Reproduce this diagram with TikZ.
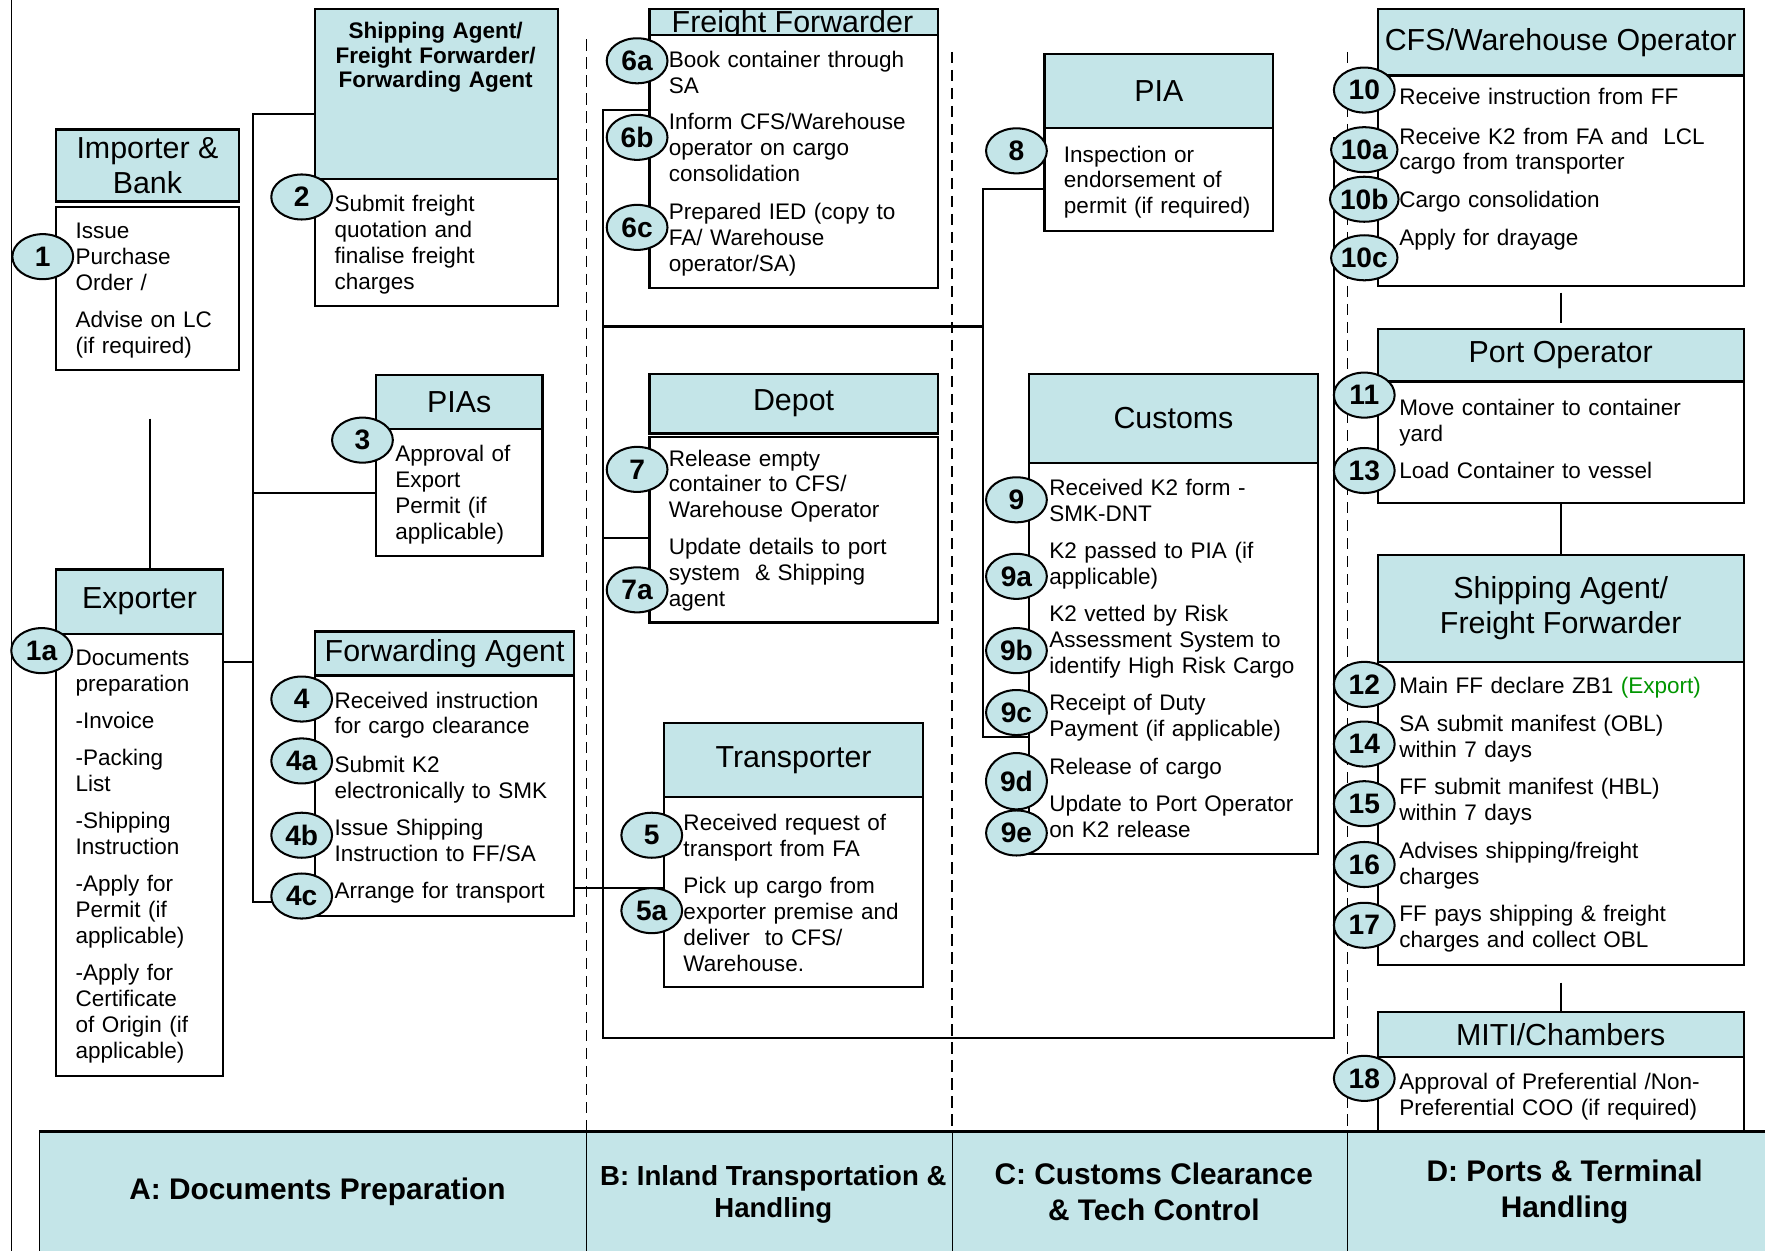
\documentclass[tikz,border=0pt]{standalone}
\usepackage{fontspec}
\setmainfont{Liberation Sans}
\usetikzlibrary{positioning,shapes.geometric}
\definecolor{headfill}{RGB}{196,229,232}
\definecolor{exportgreen}{RGB}{0,150,0}

\begin{document}
\begin{tikzpicture}[x=1pt,y=-1pt,
  hdr/.style={draw,line width=2pt,fill=headfill,anchor=north west,inner sep=0pt,
    align=center,font=\fontsize{27}{31}\selectfont},
  bodybox/.style={draw,line width=2pt,fill=white,anchor=north west,inner sep=0pt},
  stepno/.style={draw,line width=1.8pt,fill=headfill,ellipse,minimum width=54pt,
    minimum height=40pt,inner sep=0pt,font=\fontsize{25}{25}\selectfont\bfseries},
  txt/.style={anchor=base west,inner sep=0pt,text width=330pt,align=left,
    font=\fontsize{20}{23}\selectfont},
  link/.style={line width=2pt},
  lane/.style={line width=1.5pt,dash pattern=on 10pt off 6pt},
  phase/.style={font=\fontsize{26.5}{32}\selectfont\bfseries,align=center}]

  \useasboundingbox (0,0) rectangle (1568,1111);
  \draw[line width=1pt] (10,0) -- (10,1111);

  % lanes between phases
  \draw[lane] (521,35) -- (521,1005);
  \draw[lane] (846,46) -- (846,1005);
  \draw[lane] (1197,46) -- (1197,1005);

  % A: documents preparation
  \node[hdr,minimum width=162pt,minimum height=64pt] (imphd) at (49,114) {Importer \&\\Bank};
  \node[bodybox,minimum width=162pt,minimum height=145pt] (impbd) at (49,183) {};
  \node[hdr,minimum width=148pt,minimum height=57pt] (exphd) at (49,505) {Exporter};
  \node[bodybox,minimum width=148pt,minimum height=393pt] (expbd) at (49,562) {};
  \node[hdr,minimum width=216pt,minimum height=151pt] (sahd) at (279,7) {};
  \node[anchor=base,inner sep=0pt,text width=214pt,align=center,
    font=\fontsize{20}{22}\selectfont\bfseries] (satl) at (387,34)
    {Shipping Agent/\\Freight Forwarder/\\Forwarding Agent};
  \node[bodybox,minimum width=216pt,minimum height=113pt] (sabd) at (279,158) {};
  \node[hdr,minimum width=148pt,minimum height=48pt] (piashd) at (333,332) {PIAs};
  \node[bodybox,minimum width=148pt,minimum height=113pt] (piasbd) at (333,380) {};
  \node[hdr,minimum width=230pt,minimum height=39pt] (fahd) at (279,560) {Forwarding Agent};
  \node[bodybox,minimum width=230pt,minimum height=214pt] (fabd) at (279,599) {};

  % B: inland transportation
  \node[hdr,minimum width=256pt,minimum height=23pt] (ffhd) at (576,7) {};
  \node[anchor=base,inner sep=0pt,font=\fontsize{27}{31}\selectfont] (fftl) at (704,29)
    {Freight Forwarder};
  \node[bodybox,minimum width=256pt,minimum height=225pt] (ffbd) at (576,30) {};
  \node[hdr,minimum width=256pt,minimum height=53pt] (dephd) at (576,331) {Depot};
  \node[bodybox,minimum width=256pt,minimum height=165pt] (depbd) at (576,387) {};
  \node[hdr,minimum width=230pt,minimum height=66pt] (trhd) at (589,641) {Transporter};
  \node[bodybox,minimum width=230pt,minimum height=169pt] (trbd) at (589,707) {};

  % C: customs clearance
  \node[hdr,minimum width=203pt,minimum height=66pt] (piahd) at (927,47) {PIA};
  \node[bodybox,minimum width=203pt,minimum height=91pt] (piabd) at (927,113) {};
  \node[hdr,minimum width=257pt,minimum height=79pt] (cushd) at (913,331) {Customs};
  \node[bodybox,minimum width=257pt,minimum height=348pt] (cusbd) at (913,410) {};

  % D: ports and terminal
  \node[hdr,minimum width=325pt,minimum height=59pt] (cfshd) at (1223,7) {CFS/Warehouse Operator};
  \node[bodybox,minimum width=325pt,minimum height=187pt] (cfsbd) at (1223,66) {};
  \node[hdr,minimum width=325pt,minimum height=47pt] (pohd) at (1223,291) {Port Operator};
  \node[bodybox,minimum width=325pt,minimum height=108pt] (pobd) at (1223,338) {};
  \node[hdr,minimum width=325pt,minimum height=95pt] (sfhd) at (1223,492) {Shipping Agent/\\Freight Forwarder};
  \node[bodybox,minimum width=325pt,minimum height=269pt] (sfbd) at (1223,587) {};
  \node[hdr,minimum width=325pt,minimum height=40pt] (mitihd) at (1223,898) {MITI/Chambers};
  \node[bodybox,minimum width=325pt,minimum height=110pt] (mitibd) at (1223,938) {};

  % connectors
  \coordinate (atop) at (225,101);
  \coordinate (apia) at (225,438);
  \coordinate (aexp) at (225,588);
  \coordinate (abot) at (225,801);
  \coordinate (impdrop) at (133,372);
  \draw[link] (impdrop) -- (impdrop |- exphd.north);
  \draw[link] (atop -| sahd.west) -- (atop) -- (abot) -- (abot -| fabd.west);
  \draw[link] (apia) -- (apia -| piasbd.west);
  \draw[link] (aexp) -- (aexp -| expbd.east);
  \coordinate (fatr) at (509,789);
  \draw[link] (fatr -| fabd.east) -- (fatr -| trbd.west);

  \coordinate (btop) at (536,98);
  \coordinate (bmid) at (536,290);
  \coordinate (bdep) at (536,478);
  \coordinate (bbot) at (536,922);
  \coordinate (dbot) at (1185,922);
  \coordinate (dtop) at (1185,122);
  \draw[link] (btop -| ffbd.west) -- (btop) -- (bbot) -- (dbot) -- (dtop);
  \draw[link] (bdep) -- (bdep -| depbd.west);

  \coordinate (ctop) at (873,168);
  \coordinate (cbot) at (873,655);
  \draw[link] (ctop -| piabd.west) -- (ctop) -- (cbot) -- (cbot -| cusbd.west);
  \draw[link] (bmid) -- (bmid -| ctop);

  \draw[link] ([yshift=-5pt]cfsbd.south) -- ([yshift=4pt]pohd.north);
  \draw[link] (pobd.south) -- (sfhd.north);
  \draw[link] ([yshift=-15pt]sfbd.south) -- (mitihd.north);

  % phase bar
  \draw[line width=1.2pt,fill=headfill] (35,1005) rectangle (1600,1140);
  \draw[line width=3pt] (35,1005) -- (1600,1005);
  \foreach \xb in {521,846,1197}
    \draw[line width=1.2pt] (\xb,1005) -- (\xb,1111);
  \node[phase] (phaseA) at (282,1059) {A: Documents Preparation};
  \node[phase,font=\fontsize{24.5}{29}\selectfont\bfseries] (phaseB) at (687,1061)
    {B: Inland Transportation \&\\Handling};
  \node[phase] (phaseC) at (1025,1059) {C: Customs Clearance\\\& Tech Control};
  \node[phase] (phaseD) at (1390,1059) {D: Ports \& Terminal\\Handling};

  % step texts
  \node[txt] (t1) at (67,212) {Issue\\Purchase\\Order /};
  \node[txt] (t1b) at (67,291) {Advise on LC\\(if required)};
  \node[txt] (t1a) at (67,591) {Documents\\preparation\\[10pt]-Invoice\\[10pt]-Packing\\List\\[10pt]%
    -Shipping\\Instruction\\[10pt]-Apply for\\Permit (if\\applicable)\\[10pt]%
    -Apply for\\Certificate\\of Origin (if\\applicable)};
  \node[txt] (t2) at (297,188) {Submit freight\\quotation and\\finalise freight\\charges};
  \node[txt] (t3) at (351,410) {Approval of\\Export\\Permit (if\\applicable)};
  \node[txt] (t4) at (297,629) {Received instruction\\for cargo clearance};
  \node[txt] (t4a) at (297,686) {Submit K2\\electronically to SMK};
  \node[txt] (t4b) at (297,742) {Issue Shipping\\Instruction to FF/SA};
  \node[txt] (t4c) at (297,798) {Arrange for transport};

  \node[txt] (t6a) at (594,60) {Book container through\\SA};
  \node[txt] (t6b) at (594,115) {Inform CFS/Warehouse\\operator on cargo\\consolidation};
  \node[txt] (t6c) at (594,195) {Prepared IED (copy to\\FA/ Warehouse\\operator/SA)};
  \node[txt] (t7) at (594,414) {Release empty\\container to CFS/\\Warehouse Operator};
  \node[txt] (t7a) at (594,493) {Update details to port\\system \ \& Shipping\\agent};
  \node[txt] (t5) at (607,738) {Received request of\\transport from FA};
  \node[txt] (t5a) at (607,794) {Pick up cargo from\\exporter premise and\\deliver \ to CFS/\\Warehouse.};

  \node[txt] (t8) at (945,144) {Inspection or\\endorsement of\\permit (if required)};
  \node[txt] (t9) at (932,440) {Received K2 form -\\SMK-DNT};
  \node[txt] (t9a) at (932,496) {K2 passed to PIA (if\\applicable)};
  \node[txt] (t9b) at (932,552) {K2 vetted by Risk\\Assessment System to\\identify High Risk Cargo};
  \node[txt] (t9c) at (932,631) {Receipt of Duty\\Payment (if applicable)};
  \node[txt] (t9d) at (932,688) {Release of cargo};
  \node[txt] (t9e) at (932,721) {Update to Port Operator\\on K2 release};

  \node[txt] (t10) at (1243,93) {Receive instruction from FF};
  \node[txt] (t10a) at (1243,128) {Receive K2 from FA and \ LCL\\cargo from transporter};
  \node[txt] (t10b) at (1243,184) {Cargo consolidation};
  \node[txt] (t10c) at (1243,218) {Apply for drayage};
  \node[txt] (t11) at (1243,369) {Move container to container\\yard};
  \node[txt] (t13) at (1243,425) {Load Container to vessel};
  \node[txt] (t12) at (1243,616) {Main FF declare ZB1 \textcolor{exportgreen}{(Export)}};
  \node[txt] (t14) at (1243,650) {SA submit manifest (OBL)\\within 7 days};
  \node[txt] (t15) at (1243,706) {FF submit manifest (HBL)\\within 7 days};
  \node[txt] (t16) at (1243,763) {Advises shipping/freight\\charges};
  \node[txt] (t17) at (1243,819) {FF pays shipping \& freight\\charges and collect OBL};
  \node[txt] (t18) at (1243,968) {Approval of Preferential /Non-\\Preferential COO (if required)};

  % step numbers
  \node[stepno] (s1) at (38,228) {1};
  \node[stepno] (s1a) at (37,578) {1a};
  \node[stepno] (s2) at (268,175) {2};
  \node[stepno] (s3) at (322,391) {3};
  \node[stepno] (s4) at (268,621) {4};
  \node[stepno] (s4a) at (268,676) {4a};
  \node[stepno] (s4b) at (268,742) {4b};
  \node[stepno] (s4c) at (268,796) {4c};
  \node[stepno] (s6a) at (566,54) {6a};
  \node[stepno] (s6b) at (566,122) {6b};
  \node[stepno] (s6c) at (566,202) {6c};
  \node[stepno] (s7) at (566,417) {7};
  \node[stepno] (s7a) at (566,524) {7a};
  \node[stepno] (s5) at (579,742) {5};
  \node[stepno] (s5a) at (579,809) {5a};
  \node[stepno] (s8) at (903,134) {8};
  \node[stepno] (s9) at (903,444) {9};
  \node[stepno] (s9a) at (903,512) {9a};
  \node[stepno] (s9b) at (903,578) {9b};
  \node[stepno] (s9c) at (903,633) {9c};
  \node[stepno,minimum height=50pt] (s9d) at (903,694) {9d};
  \node[stepno] (s9e) at (903,740) {9e};
  \node[stepno] (s10) at (1212,80) {10};
  \node[stepno] (s10a) at (1212,133) {10a};
  \node[stepno] (s10b) at (1212,177) {10b};
  \node[stepno] (s10c) at (1212,229) {10c};
  \node[stepno] (s11) at (1212,351) {11};
  \node[stepno] (s13) at (1212,418) {13};
  \node[stepno] (s12) at (1212,608) {12};
  \node[stepno] (s14) at (1212,661) {14};
  \node[stepno] (s15) at (1212,714) {15};
  \node[stepno] (s16) at (1212,768) {16};
  \node[stepno] (s17) at (1212,822) {17};
  \node[stepno] (s18) at (1212,958) {18};
\end{tikzpicture}
\end{document}
